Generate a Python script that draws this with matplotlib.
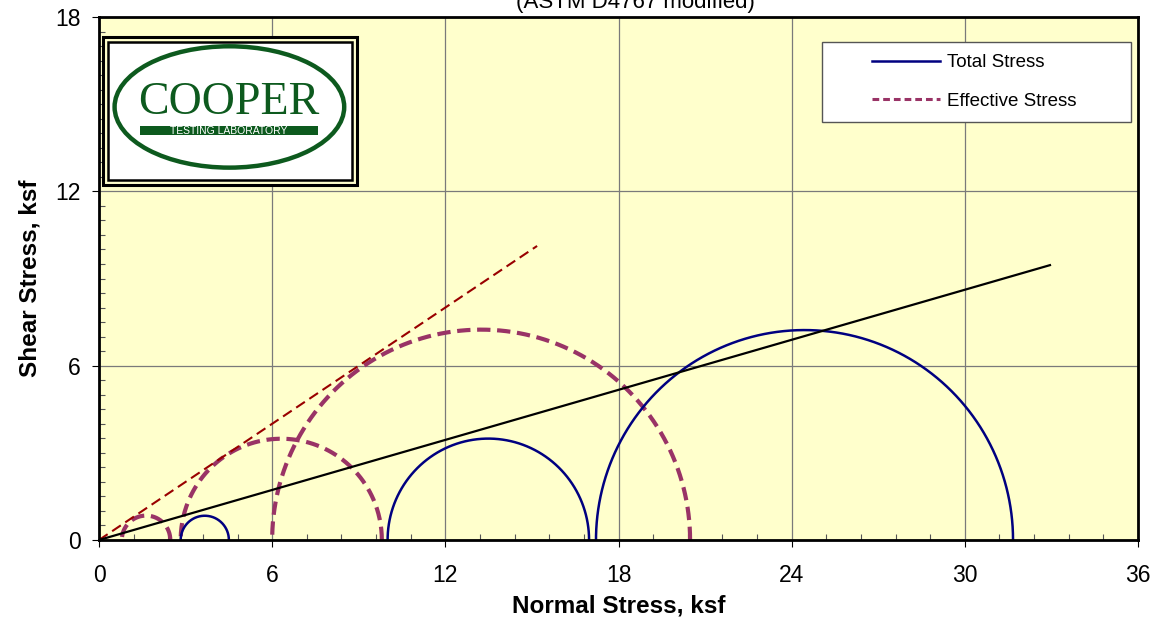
import numpy as np
import matplotlib
matplotlib.use("Agg")
import matplotlib.pyplot as plt
from matplotlib.patches import Rectangle, Ellipse
from matplotlib.lines import Line2D
from matplotlib.ticker import MultipleLocator

plt.rcParams['font.family'] = ['Liberation Sans', 'DejaVu Sans']

# ---- data (ksf) ----
total_sigma3 = [2.83, 10.0, 17.22]
total_sigma1 = [4.50, 16.98, 31.67]
eff_sigma3 = [0.79, 2.83, 6.0]
eff_sigma1 = [2.47, 9.80, 20.48]
total_env_x = [0.0, 32.95]
total_env_y = [0.0, 9.46]
eff_env_x = [0.0, 15.18]
eff_env_y = [0.0, 10.12]
x_ticks = [0, 6, 12, 18, 24, 30, 36]
y_ticks = [0, 6, 12, 18]
title_text = "(ASTM D4767 modified)"
xlabel = "Normal Stress, ksf"
ylabel = "Shear Stress, ksf"
legend_labels = ["Total Stress", "Effective Stress"]

fig = plt.figure(figsize=(11.57, 6.28), dpi=100)
ax = fig.add_axes([99/1157, 88/628, 1039/1157, 523/628])
ax.set_facecolor('#FFFFCC')
ax.set_xlim(0, 36)
ax.set_ylim(0, 18)

theta = np.linspace(0, np.pi, 300)

def mohr(s3, s1):
    c = (s3 + s1) / 2.0
    r = (s1 - s3) / 2.0
    return c + r * np.cos(theta), r * np.sin(theta)

for s3, s1 in zip(total_sigma3, total_sigma1):
    x, y = mohr(s3, s1)
    ax.plot(x, y, color='#000080', lw=1.8, zorder=4, solid_capstyle='butt')

for s3, s1 in zip(eff_sigma3, eff_sigma1):
    x, y = mohr(s3, s1)
    ax.plot(x, y, color='#993366', lw=3.0, dashes=(3.2, 1.6), zorder=3,
            dash_capstyle='butt')

ax.plot(eff_env_x, eff_env_y, color='#990000', lw=1.5, dashes=(5, 2.6), zorder=4)
ax.plot(total_env_x, total_env_y, color='black', lw=1.6, zorder=5)

ax.xaxis.set_major_locator(MultipleLocator(6))
ax.yaxis.set_major_locator(MultipleLocator(6))
ax.xaxis.set_minor_locator(MultipleLocator(1.2))
ax.yaxis.set_minor_locator(MultipleLocator(0.5))
ax.set_xticks(x_ticks)
ax.set_yticks(y_ticks)
ax.set_xticklabels([str(t) for t in x_ticks])
ax.set_yticklabels([str(t) for t in y_ticks])
ax.tick_params(which='major', direction='out', length=5, width=0.8, labelsize=16.5, pad=12, colors='black')
ax.tick_params(axis='y', which='major', pad=8)
ax.tick_params(which='minor', direction='in', length=4, width=0.8, color='#555555')
ax.grid(True, which='major', color='#7a7a7a', lw=0.9, zorder=1)
ax.set_axisbelow(True)
for s in ax.spines.values():
    s.set_linewidth(2.0)
    s.set_color('black')
    s.set_zorder(6)

ax.set_xlabel(xlabel, fontsize=17.5, fontweight='bold', labelpad=6)
ax.set_ylabel(ylabel, fontsize=17.5, fontweight='bold', labelpad=10)

fig.text(0.549, 1 - 8/628, title_text, ha='center', va='baseline', fontsize=16)

# ---- logo ----
T = ax.transAxes
ax.add_patch(Rectangle((0.004, 0.679), 0.244, 0.283, transform=T, facecolor='#FFFFCC',
                       edgecolor='black', lw=2.2, zorder=7))
ax.add_patch(Rectangle((0.0085, 0.688), 0.235, 0.265, transform=T, facecolor='white',
                       edgecolor='black', lw=1.8, zorder=7))
green = '#0d5a1e'
ax.add_patch(Ellipse((0.1255, 0.828), 0.221, 0.232, transform=T, facecolor='none',
                     edgecolor=green, lw=3.2, zorder=8))
ax.text(0.125, 0.8365, "COOPER", transform=T, ha='center', va='center', fontsize=33,
        family=['Liberation Serif', 'DejaVu Serif'], color=green, zorder=9)
ax.add_patch(Rectangle((0.0395, 0.774), 0.1713, 0.0176, transform=T, facecolor=green,
                       edgecolor='none', zorder=8))
ax.text(0.125, 0.7828, "TESTING LABORATORY", transform=T, ha='center', va='center',
        fontsize=7.5, color='white', zorder=9)

# ---- legend ----
ax.add_patch(Rectangle((0.696, 0.799), 0.297, 0.153, transform=T, facecolor='white',
                       edgecolor='#555555', lw=1.0, zorder=7))
handles = [Line2D([], [], color='#000080', lw=1.8),
           Line2D([], [], color='#993366', lw=2.2, dashes=(2.2, 1.3))]
leg = ax.legend(handles, legend_labels, loc='center left', bbox_to_anchor=(0.744, 0.876),
                frameon=False, fontsize=13.5, handlelength=3.6, handletextpad=0.4,
                labelspacing=1.15, borderpad=0, borderaxespad=0)
leg.set_zorder(8)

fig.savefig("out.png", dpi=100, facecolor='white')
